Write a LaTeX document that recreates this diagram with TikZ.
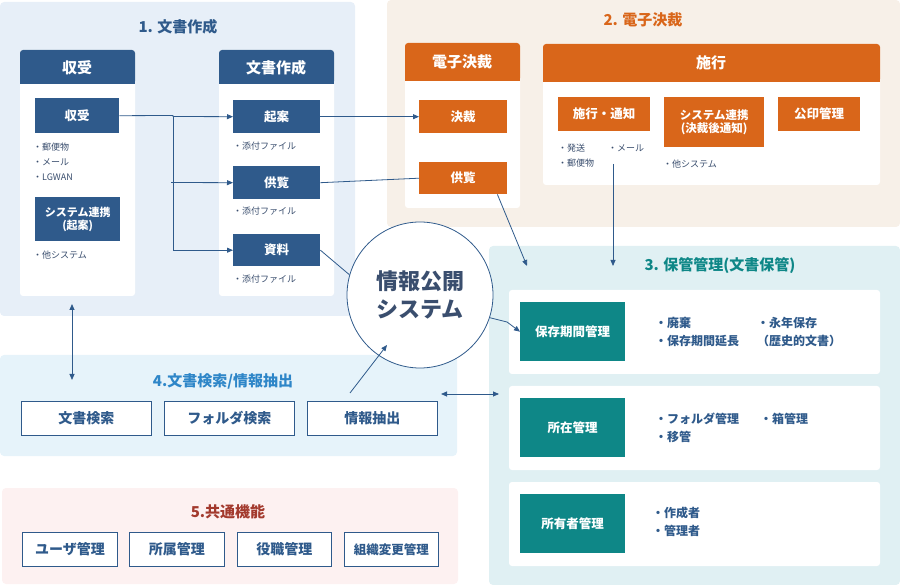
\documentclass[tikz,border=0pt]{standalone}
\usepackage{fontspec}
\setmainfont{Noto Sans CJK JP}
\usetikzlibrary{arrows.meta}
\definecolor{dblue}{HTML}{2F5A8B}
\definecolor{pblue}{HTML}{E7EFF8}
\definecolor{porange}{HTML}{F7F0E8}
\definecolor{orng}{HTML}{D9661A}
\definecolor{pteal}{HTML}{E0F0F3}
\definecolor{teal2}{HTML}{0E8787}
\definecolor{pblue4}{HTML}{E6F3FA}
\definecolor{pred}{HTML}{FDF1F1}
\definecolor{lblue}{HTML}{2E86C8}
\definecolor{dred}{HTML}{A33A2E}
\definecolor{txt}{HTML}{3A4E6E}
\begin{document}
\begin{tikzpicture}[x=1pt,y=-1pt,
 panel/.style={rounded corners=4pt,draw=none},
 card/.style={fill=white,rounded corners=3pt},
 box/.style={anchor=north west,inner sep=0,align=center,text=white,font=\fontsize{12.5}{14}\selectfont\bfseries},
 sm/.style={anchor=west,inner sep=0,text=txt,font=\fontsize{9}{10}\selectfont},
 md/.style={anchor=west,inner sep=0,text=dblue,font=\fontsize{12}{13}\selectfont\bfseries},
 ttl/.style={inner sep=0,font=\fontsize{15}{16}\selectfont\bfseries},
 wbox/.style={anchor=north west,inner sep=0,draw=dblue,line width=0.8pt,fill=white,text=dblue,font=\fontsize{14}{15}\selectfont\bfseries},
 arr/.style={draw=dblue,line width=0.8pt,-{Triangle[length=6pt,width=5pt]}},
 ln/.style={draw=dblue,line width=0.8pt}]
\useasboundingbox (0,0) rectangle (900,585);
% panels
\fill[pblue,panel] (0,2) rectangle (355,316);
\fill[porange,panel] (387,0) rectangle (900,227);
\fill[pteal,panel] (489,246) rectangle (900,585);
\fill[pblue4,panel] (0,355) rectangle (457,456);
\fill[pred,panel] (2,488) rectangle (458,584);
\node[ttl,text=dblue] (t1) at (178,27) {1. 文書作成};
\node[ttl,text=orng] (t2) at (643,20) {2. 電子決裁};
\node[ttl,text=teal2] (t3) at (720,266) {3. 保管管理(文書保管)};
\node[ttl,text=lblue] (t4) at (223,381) {4.文書検索/情報抽出};
\node[ttl,text=dred] (t5) at (228,512) {5.共通機能};
% panel 1 cards
\fill[card] (20,50) rectangle (135,296);
\fill[card] (219,50) rectangle (334,296);
\fill[dblue,rounded corners=3pt] (20,50) rectangle (135,84);
\fill[dblue] (20,70) rectangle (135,84);
\fill[dblue,rounded corners=3pt] (219,50) rectangle (334,84);
\fill[dblue] (219,70) rectangle (334,84);
\node[text=white,font=\fontsize{15}{16}\selectfont\bfseries] (h1) at (77,68) {収受};
\node[text=white,font=\fontsize{15}{16}\selectfont\bfseries] (h2) at (276,68) {文書作成};
\node[box,fill=dblue,minimum width=84pt,minimum height=35pt] (ju) at (35,98) {収受};
\node[sm] (s1) at (33,147) {・郵便物};
\node[sm] (s2) at (33,162) {・メール};
\node[sm] (s3) at (33,177) {・LGWAN};
\node[box,fill=dblue,minimum width=85pt,minimum height=44pt,font=\fontsize{11}{13}\selectfont\bfseries] (sr) at (35,197) {システム連携\\(起案)};
\node[sm] (s4) at (33,255) {・他システム};
\node[box,fill=dblue,minimum width=87pt,minimum height=33pt] (ki) at (233,100) {起案};
\node[sm] (a1) at (233,146) {・添付ファイル};
\node[box,fill=dblue,minimum width=87pt,minimum height=33pt] (ky) at (233,166) {供覧};
\node[sm] (a2) at (233,211) {・添付ファイル};
\node[box,fill=dblue,minimum width=87pt,minimum height=32pt] (sy) at (233,234) {資料};
\node[sm] (a3) at (233,279) {・添付ファイル};
% panel 2 cards
\fill[card] (405,43) rectangle (520,208);
\fill[card] (543,44) rectangle (880,185);
\fill[orng,rounded corners=3pt] (405,43) rectangle (520,81);
\fill[orng] (405,65) rectangle (520,81);
\fill[orng,rounded corners=3pt] (543,44) rectangle (880,82);
\fill[orng] (543,65) rectangle (880,82);
\node[text=white,font=\fontsize{15}{16}\selectfont\bfseries] (h3) at (462,62) {電子決裁};
\node[text=white,font=\fontsize{15}{16}\selectfont\bfseries] (h4) at (711,63) {施行};
\node[box,fill=orng,minimum width=88pt,minimum height=33pt] (ke) at (419,100) {決裁};
\node[box,fill=orng,minimum width=88pt,minimum height=32pt] (ko) at (419,162) {供覧};
\node[box,fill=orng,minimum width=92pt,minimum height=34pt] (se) at (558,97) {施行・通知};
\node[box,fill=orng,minimum width=100pt,minimum height=50pt,font=\fontsize{11.5}{13}\selectfont\bfseries] (sr2) at (664,97) {システム連携\\(決裁後通知)};
\node[box,fill=orng,minimum width=82pt,minimum height=34pt] (ko2) at (778,97) {公印管理};
\node[sm] (b1) at (558,148) {・発送};
\node[sm] (b2) at (608,148) {・メール};
\node[sm] (b3) at (558,163) {・郵便物};
\node[sm] (b4) at (663,164) {・他システム};
\coordinate (mstart) at (613,164);
\coordinate (mend) at (613,266);
\coordinate (kend) at (527,266);
% panel 3 rows
\foreach \y in {290,386,482} \fill[card] (509,\y) rectangle (880,\y+84);
\node[box,fill=teal2,minimum width=105pt,minimum height=59pt] (r1) at (520,302) {保存期間管理};
\node[box,fill=teal2,minimum width=105pt,minimum height=59pt] (r2) at (520,398) {所在管理};
\node[box,fill=teal2,minimum width=105pt,minimum height=59pt] (r3) at (520,494) {所有者管理};
\node[md] (c1) at (655,323) {・廃棄};
\node[md] (c2) at (655,341) {・保存期間延長};
\node[md] (c3) at (757,323) {・永年保存};
\node[md] (c4) at (757,341) {（歴史的文書）};
\node[md] (c5) at (655,419) {・フォルダ管理};
\node[md] (c6) at (760,419) {・箱管理};
\node[md] (c7) at (655,437) {・移管};
\node[md] (c8) at (652,513) {・作成者};
\node[md] (c9) at (652,531) {・管理者};
% panel 4 / 5 boxes
\node[wbox,minimum width=130pt,minimum height=34pt] (f1) at (21,401) {文書検索};
\node[wbox,minimum width=130pt,minimum height=34pt] (f2) at (164,401) {フォルダ検索};
\node[wbox,minimum width=130pt,minimum height=34pt] (f3) at (307,401) {情報抽出};
\node[wbox,minimum width=95pt,minimum height=34pt] (g1) at (22,532) {ユーザ管理};
\node[wbox,minimum width=95pt,minimum height=34pt] (g2) at (129,532) {所属管理};
\node[wbox,minimum width=94pt,minimum height=34pt] (g3) at (237,532) {役職管理};
\node[wbox,minimum width=94pt,minimum height=34pt,font=\fontsize{12.5}{14}\selectfont\bfseries] (g4) at (344,532) {組織変更管理};
% circle
\node[circle,draw=dblue,line width=0.8pt,fill=white,minimum size=146pt,inner sep=0,align=center,text=txt,font=\fontsize{22}{28}\selectfont\bfseries] (ci) at (420,295) {情報公開\\システム};
% connectors
\draw[ln] (ju.east) -- (173,115.5);
\draw[arr] (173,115.5) -- (173,116.5) -- (ki.west);
\draw[arr] (173,116) |- (sy.west);
\draw[arr] (171,182.5) -- (ky.west);
\draw[arr] (ki.east) -- (ke.west);
\draw[ln] (ky.east) -- (ko.west);
\draw[ln] (sy.east) -- (ci.164);
\draw[arr] (ko.south east) ++(-10,0) -- (kend);
\draw[arr] (mstart) -- (mend);
\draw[ln] (ci.-18) -- (507,322);
\draw[arr] (507,322) -- (r1.west);
\draw[arr,{Triangle[length=6pt,width=5pt]}-{Triangle[length=6pt,width=5pt]}] (72,304) -- (72,380);
\draw[arr,{Triangle[length=6pt,width=5pt]}-{Triangle[length=6pt,width=5pt]}] (441,394) -- (499,394);
\coordinate (f3top) at (350,393);
\draw[arr] (f3top) -- (387,345);
\end{tikzpicture}
\end{document}
